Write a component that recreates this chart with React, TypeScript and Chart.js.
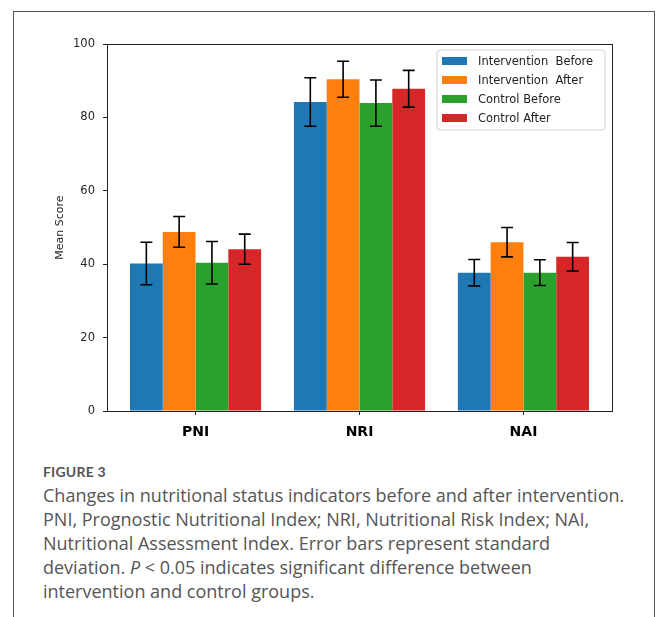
import React, { useEffect, useRef } from "react";
import { Chart, registerables } from "chart.js";

Chart.register(...registerables);

// ---- data ----
const categories = ["PNI", "NRI", "NAI"];
const seriesLabels = ["Intervention  Before", "Intervention  After", "Control Before", "Control After"];
const interventionBefore = [40.2, 84.2, 37.7];
const interventionBeforeSD = [5.8, 6.6, 3.6];
const interventionAfter = [48.8, 90.4, 46.0];
const interventionAfterSD = [4.2, 4.9, 4.0];
const controlBefore = [40.4, 83.9, 37.7];
const controlBeforeSD = [5.8, 6.3, 3.5];
const controlAfter = [44.1, 87.8, 42.0];
const controlAfterSD = [4.1, 5.0, 3.9];
const yTicks = [0, 20, 40, 60, 80, 100];

const seriesColors = ["#1f77b4", "#ff7f0e", "#2ca02c", "#d62728"];
const seriesMeans = [interventionBefore, interventionAfter, controlBefore, controlAfter];
const seriesSDs = [interventionBeforeSD, interventionAfterSD, controlBeforeSD, controlAfterSD];

const errorBarPlugin = {
  id: "errorBars",
  afterDatasetsDraw(chart: any) {
    const { ctx } = chart;
    const y = chart.scales.y;
    ctx.save();
    ctx.strokeStyle = "#000";
    ctx.lineWidth = 1.6;
    chart.data.datasets.forEach((ds: any, i: number) => {
      const meta = chart.getDatasetMeta(i);
      meta.data.forEach((bar: any, j: number) => {
        const m = ds.data[j].y;
        const e = ds.errors[j];
        const top = y.getPixelForValue(m + e);
        const bot = y.getPixelForValue(m - e);
        const x = bar.x;
        const cap = 6;
        ctx.beginPath();
        ctx.moveTo(x, top);
        ctx.lineTo(x, bot);
        ctx.moveTo(x - cap, top);
        ctx.lineTo(x + cap, top);
        ctx.moveTo(x - cap, bot);
        ctx.lineTo(x + cap, bot);
        ctx.stroke();
      });
    });
    ctx.restore();
  },
};

const framePlugin = {
  id: "axesFrame",
  afterDatasetsDraw(chart: any) {
    const { ctx, chartArea: a } = chart;
    ctx.save();
    ctx.strokeStyle = "#222";
    ctx.lineWidth = 1;
    ctx.strokeRect(Math.round(a.left) + 0.5, Math.round(a.top) + 0.5, Math.round(a.right - a.left), Math.round(a.bottom - a.top));
    ctx.restore();
  },
};

const legendPlugin = {
  id: "innerLegend",
  afterDraw(chart: any) {
    const { ctx, chartArea: a } = chart;
    const boxW = 168;
    const boxH = 80;
    const bx = a.right - 7 - boxW;
    const by = a.top + 6;
    ctx.save();
    ctx.fillStyle = "rgba(255,255,255,0.85)";
    ctx.strokeStyle = "#d0d0d0";
    ctx.lineWidth = 1;
    ctx.beginPath();
    const r = 3;
    ctx.moveTo(bx + r, by);
    ctx.lineTo(bx + boxW - r, by);
    ctx.quadraticCurveTo(bx + boxW, by, bx + boxW, by + r);
    ctx.lineTo(bx + boxW, by + boxH - r);
    ctx.quadraticCurveTo(bx + boxW, by + boxH, bx + boxW - r, by + boxH);
    ctx.lineTo(bx + r, by + boxH);
    ctx.quadraticCurveTo(bx, by + boxH, bx, by + boxH - r);
    ctx.lineTo(bx, by + r);
    ctx.quadraticCurveTo(bx, by, bx + r, by);
    ctx.closePath();
    ctx.fill();
    ctx.stroke();
    ctx.font = "11.5px 'DejaVu Sans'";
    ctx.textBaseline = "middle";
    ctx.textAlign = "left";
    chart.data.datasets.forEach((ds: any, i: number) => {
      const cy = by + 11 + i * 19;
      ctx.fillStyle = ds.backgroundColor;
      ctx.fillRect(bx + 5, cy - 4, 25, 8);
      ctx.fillStyle = "#222";
      ctx.fillText(ds.label, bx + 41, cy + 1);
    });
    ctx.restore();
  },
};

export default function App() {
  const ref = useRef<HTMLCanvasElement | null>(null);

  useEffect(() => {
    if (!ref.current) return;
    const chart = new Chart(ref.current, {
      type: "bar",
      data: {
        datasets: seriesLabels.map((label, i) => ({
          label,
          data: categories.map((_, j) => ({ x: j, y: seriesMeans[i][j] })),
          errors: seriesSDs[i],
          backgroundColor: seriesColors[i],
          borderWidth: 0,
          categoryPercentage: 0.8,
          barPercentage: 1,
        })) as any,
      },
      options: {
        responsive: false,
        animation: false,
        layout: { padding: { left: 40, top: 44, right: 47, bottom: 0 } },
        plugins: {
          legend: { display: false },
          tooltip: { enabled: false },
        },
        scales: {
          x: {
            type: "linear",
            min: -0.54,
            max: 2.54,
            offset: false,
            grid: { offset: false, drawOnChartArea: false, drawTicks: true, tickLength: 4, color: "#222" },
            border: { display: true, color: "#222" },
            afterBuildTicks: (scale: any) => {
              scale.ticks = categories.map((_, i) => ({ value: i }));
            },
            afterFit: (scale: any) => {
              scale.height = 44;
            },
            ticks: {
              autoSkip: false,
              maxRotation: 0,
              padding: 9,
              color: "#000",
              font: { family: "'DejaVu Sans'", size: 14, weight: "bold" },
              callback: (v: any) => categories[Math.round(Number(v))] ?? "",
            },
          },
          y: {
            type: "linear",
            min: 0,
            max: 100,
            grid: { drawOnChartArea: false, drawTicks: true, tickLength: 4, color: "#222" },
            border: { display: true, color: "#222" },
            afterBuildTicks: (scale: any) => {
              scale.ticks = yTicks.map((v) => ({ value: v }));
            },
            afterFit: (scale: any) => {
              scale.width = 67;
            },
            ticks: {
              padding: 8,
              color: "#262626",
              font: { family: "'DejaVu Sans'", size: 11.5 },
              callback: (v: any) => String(v),
            },
            title: {
              display: true,
              text: "Mean Score",
              color: "#262626",
              font: { family: "'DejaVu Sans'", size: 11 },
              padding: { top: 13.4, bottom: 0 },
            },
          },
        },
      } as any,
      plugins: [errorBarPlugin, framePlugin, legendPlugin],
    });
    return () => chart.destroy();
  }, []);

  return (
    <div style={{ position: "absolute", left: 0, top: 0, width: 659, height: 617, overflow: "hidden", background: "#fff" }}>
      <div
        style={{
          position: "absolute",
          left: 13,
          top: 11,
          width: 640,
          height: 700,
          borderTop: "1px solid #555",
          borderLeft: "1px solid #555",
          borderRight: "1px solid #555",
        }}
      />
      <canvas ref={ref} width={659} height={455} style={{ position: "absolute", left: 0, top: 0 }} />
      <div style={{ position: "absolute", left: 43, top: 461, color: "#555", whiteSpace: "nowrap" }}>
        <div style={{ fontFamily: "Lato, sans-serif", fontSize: 14, fontWeight: 700, lineHeight: "22px", letterSpacing: 0.2 }}>FIGURE 3</div>
        <div style={{ fontFamily: "'Open Sans', sans-serif", fontSize: 18, lineHeight: "24px" }}>
          Changes in nutritional status indicators before and after intervention.
          <br />
          PNI, Prognostic Nutritional Index; NRI, Nutritional Risk Index; NAI,
          <br />
          Nutritional Assessment Index. Error bars represent standard
          <br />
          deviation. <i>P</i> &lt; 0.05 indicates significant difference between
          <br />
          intervention and control groups.
        </div>
      </div>
    </div>
  );
}
